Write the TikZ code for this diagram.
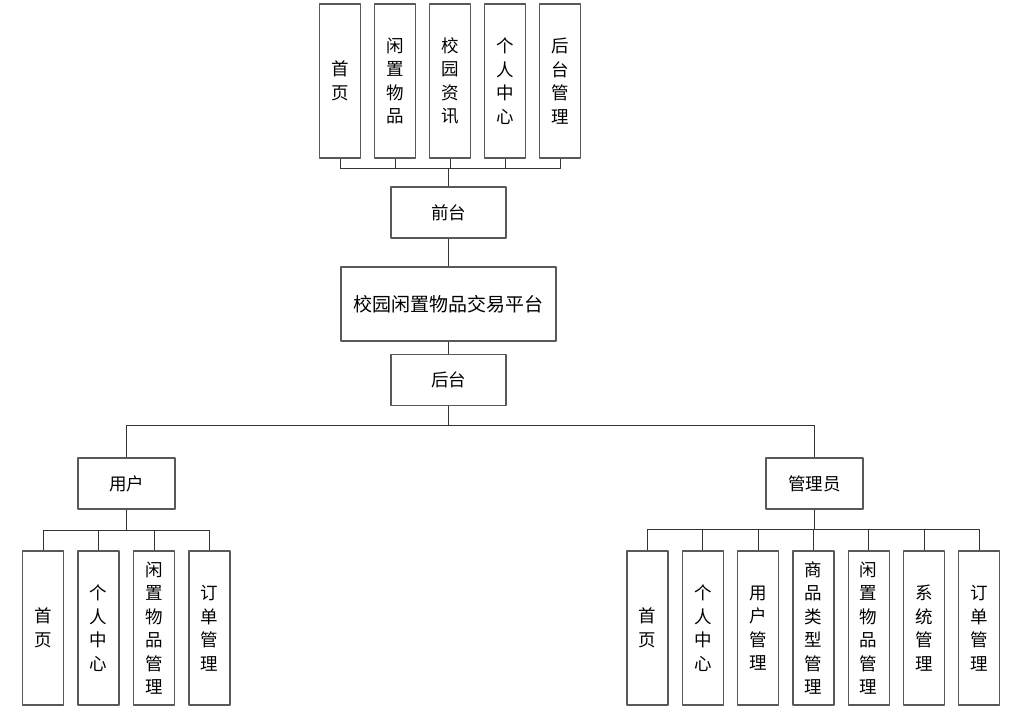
\documentclass[tikz,border=0pt]{standalone}
\usepackage{fontspec}
\newfontfamily\cjk{Noto Sans CJK SC}
\begin{document}
\begin{tikzpicture}[x=1pt,y=-1pt,line join=round,
  box/.style={draw=black!65,line width=1.3pt,inner sep=0pt,
    font=\cjk\fontsize{17.5}{23.5}\selectfont},
  vbox/.style={box,minimum width=41,minimum height=154,align=center},
  hbox/.style={box,minimum width=115,minimum height=51},
  link/.style={draw=black!80,line width=0.8pt}]
  \useasboundingbox (0,0) rectangle (1026,721);
  % front end
  \foreach \t [count=\i] in {首\\页,闲\\置\\物\\品,校\\园\\资\\讯,个\\人\\中\\心,后\\台\\管\\理}
    \node[vbox] (t\i) at ({285+55*\i},81) {\t};
  \node[hbox] (front) at (448.5,212.5) {前台};
  \node[box,minimum width=215,minimum height=74,font=\cjk\fontsize{19}{23.5}\selectfont]
    (platform) at (448.5,304) {校园闲置物品交易平台};
  \node[hbox] (back) at (448.5,380) {后台};
  \node[hbox,minimum width=97] (user) at (126.5,483.5) {用户};
  \node[hbox,minimum width=97] (admin) at (814.5,483.5) {管理员};
  % children
  \foreach \t [count=\i] in {首\\页,个\\人\\中\\心,闲\\置\\物\\品\\管\\理,订\\单\\管\\理}
    \node[vbox] (u\i) at ({-12.5+55.5*\i},628) {\t};
  \foreach \t [count=\i] in {首\\页,个\\人\\中\\心,用\\户\\管\\理,商\\品\\类\\型\\管\\理,
      闲\\置\\物\\品\\管\\理,系\\统\\管\\理,订\\单\\管\\理}
    \node[vbox] (a\i) at ({592.2+55.3*\i},628) {\t};
  % connectors
  \coordinate (fbus) at (448.5,168);
  \coordinate (bbus) at (448.5,425);
  \coordinate (ubus) at (126.5,530);
  \coordinate (abus) at (814.5,529);
  \draw[link] (front) -- (fbus);
  \foreach \i in {1,...,5} \draw[link] (t\i.south) |- (fbus);
  \draw[link] (front) -- (platform);
  \draw[link] (platform) -- (back);
  \draw[link] (back) -- (bbus);
  \draw[link] (user.north) |- (bbus);
  \draw[link] (admin.north) |- (bbus);
  \draw[link] (user) -- (ubus);
  \foreach \i in {1,...,4} \draw[link] (u\i.north) |- (ubus);
  \draw[link] (admin) -- (abus);
  \foreach \i in {1,...,7} \draw[link] (a\i.north) |- (abus);
\end{tikzpicture}
\end{document}
